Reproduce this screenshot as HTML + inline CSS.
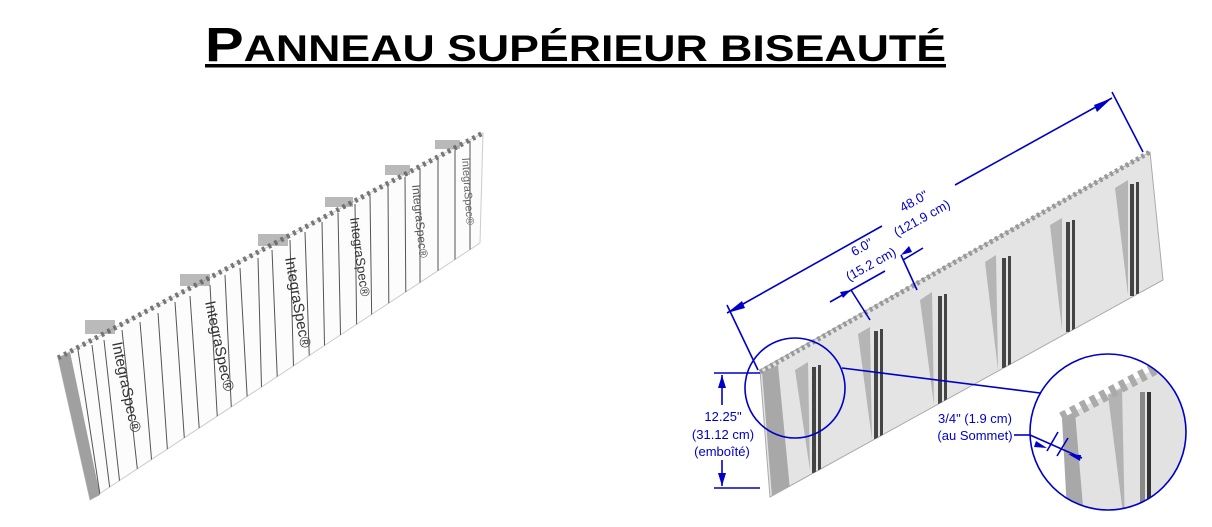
<!DOCTYPE html>
<html><head><meta charset="utf-8"><style>
html,body{margin:0;padding:0;background:#fff;width:1212px;height:527px;overflow:hidden}
svg{position:absolute;left:0;top:0}
</style></head><body>
<svg width="1212" height="527" viewBox="0 0 1212 527" xmlns="http://www.w3.org/2000/svg" font-family="Liberation Sans, Arial, sans-serif">
<!-- Title -->
<text x="205" y="61" font-size="48" font-weight="bold" fill="#000" textLength="741" lengthAdjust="spacingAndGlyphs">P<tspan font-size="37">ANNEAU SUPÉRIEUR BISEAUTÉ</tspan></text>
<rect x="205" y="64" width="741" height="3.5" fill="#000"/>

<defs>
<clipPath id="lp"><polygon points="58,358 483,133 480,243 90,500"/></clipPath>
<clipPath id="rp"><polygon points="760,370 1150,152 1163,280 770,497"/></clipPath>
<clipPath id="bc"><circle cx="1108" cy="432" r="78"/></clipPath>
</defs>

<!-- LEFT PANEL -->
<polygon points="58,358 483,133 480,243 90,500" fill="#fcfcfc" stroke="#ccc" stroke-width="1"/>
<polygon points="58,358 70,352 100,495 90,500" fill="#a0a0a0"/>
<g clip-path="url(#lp)" stroke="#555" stroke-width="1">
<line x1="78" y1="350" x2="100" y2="495"/><line x1="92" y1="345" x2="110" y2="490"/>
<line x1="104" y1="340" x2="120" y2="485"/><line x1="122" y1="330" x2="138" y2="475"/>
<line x1="140" y1="322" x2="152" y2="465"/><line x1="158" y1="313" x2="168" y2="458"/>
<line x1="175" y1="302" x2="185" y2="448"/><line x1="190" y1="296" x2="200" y2="440"/>
<line x1="210" y1="285" x2="218" y2="430"/><line x1="225" y1="275" x2="232" y2="422"/>
<line x1="240" y1="268" x2="248" y2="412"/><line x1="258" y1="258" x2="262" y2="405"/>
<line x1="272" y1="250" x2="278" y2="395"/><line x1="290" y1="240" x2="294" y2="385"/>
<line x1="305" y1="232" x2="310" y2="377"/><line x1="322" y1="222" x2="325" y2="368"/>
<line x1="338" y1="213" x2="341" y2="358"/><line x1="355" y1="204" x2="357" y2="350"/>
<line x1="370" y1="196" x2="372" y2="340"/><line x1="388" y1="186" x2="389" y2="332"/>
<line x1="405" y1="177" x2="406" y2="322"/><line x1="420" y1="168" x2="420" y2="314"/>
<line x1="438" y1="158" x2="438" y2="305"/><line x1="455" y1="150" x2="455" y2="295"/>
<line x1="470" y1="141" x2="470" y2="287"/>
</g>
<polyline points="58,358 483,133" fill="none" stroke="#777" stroke-width="5" stroke-dasharray="3,4"/>
<g fill="#333" font-size="15">
<text transform="translate(112,343) rotate(78)">IntegraSpec®</text>
<text transform="translate(205,302) rotate(78)">IntegraSpec®</text>
<text transform="translate(285,258) rotate(80)">IntegraSpec®</text>
<text transform="translate(350,218) rotate(82)" font-size="13">IntegraSpec®</text>
<text transform="translate(412,185) rotate(84)" font-size="12" fill="#555">IntegraSpec®</text>
<text transform="translate(462,158) rotate(86)" font-size="11" fill="#666">IntegraSpec®</text>
</g>
<g fill="#666" opacity=".45">
<rect x="85" y="320" width="30" height="14"/>
<rect x="180" y="274" width="30" height="12"/>
<rect x="258" y="234" width="30" height="12"/>
<rect x="325" y="197" width="28" height="10"/>
<rect x="385" y="165" width="25" height="10"/>
<rect x="435" y="140" width="25" height="9"/>
</g>

<!-- RIGHT PANEL -->
<polygon points="760,370 1150,152 1163,280 770,497" fill="#e4e4e4" stroke="#aaa"/>
<g clip-path="url(#rp)">
<polygon points="762,372 778,365 790,490 772,497" fill="#a8a8a8"/>
<g fill="#b5b5b5">
<polygon points="795,370 808,362 810,470"/>
<polygon points="858,334 870,327 872,440"/>
<polygon points="920,300 932,292 934,405"/>
<polygon points="985,262 996,255 998,370"/>
<polygon points="1050,225 1062,218 1062,330"/>
<polygon points="1115,188 1128,180 1128,295"/>
</g>
<g fill="#444">
<rect x="812" y="367" width="4" height="106"/><rect x="818" y="365" width="3" height="108"/>
<rect x="874" y="331" width="4" height="108"/><rect x="880" y="329" width="3" height="110"/>
<rect x="938" y="296" width="4" height="108"/><rect x="944" y="294" width="3" height="110"/>
<rect x="1002" y="258" width="4" height="110"/><rect x="1008" y="256" width="3" height="110"/>
<rect x="1066" y="222" width="4" height="110"/><rect x="1072" y="220" width="3" height="110"/>
<rect x="1130" y="184" width="4" height="112"/><rect x="1136" y="182" width="3" height="112"/>
</g>
</g>
<polyline points="760,372 1150,152" fill="none" stroke="#999" stroke-width="5" stroke-dasharray="3,3"/>

<!-- magnified detail -->
<g clip-path="url(#bc)">
<polygon points="1062,418 1200,345 1200,530 1070,530" fill="#e2e2e2"/>
<polygon points="1062,418 1075,412 1085,530 1068,530" fill="#a8a8a8"/>
<polygon points="1108,395 1122,388 1125,530" fill="#b3b3b3"/>
<rect x="1140" y="392" width="5" height="140" fill="#888"/>
<rect x="1147" y="392" width="4" height="140" fill="#333"/>
<polyline points="1062,418 1200,345" fill="none" stroke="#aaa" stroke-width="12" stroke-dasharray="6,5"/>
</g>

<!-- dimensions -->
<g stroke="#0000c8" stroke-width="1.6" fill="none">
<line x1="727" y1="313" x2="882" y2="226"/><line x1="955" y1="185" x2="1112" y2="98"/>
<line x1="758" y1="370" x2="727" y2="305"/><line x1="1143" y1="152" x2="1112" y2="92"/>
<line x1="830" y1="302" x2="885" y2="271"/><line x1="903" y1="260" x2="923" y2="248"/>
<line x1="851" y1="290" x2="870" y2="320"/><line x1="901" y1="255" x2="917" y2="290"/>
<line x1="714" y1="373" x2="760" y2="373"/><line x1="714" y1="488" x2="760" y2="488"/>
<line x1="722" y1="375" x2="722" y2="405"/><line x1="722" y1="460" x2="722" y2="486"/>
<circle cx="795" cy="388" r="50"/>
<circle cx="1108" cy="432" r="78"/>
<line x1="842" y1="368" x2="1040" y2="393"/>
<line x1="1014" y1="435" x2="1030" y2="435"/><line x1="1030" y1="435" x2="1082" y2="458"/>
<line x1="1047" y1="451" x2="1058" y2="432"/><line x1="1057" y1="456" x2="1068" y2="438"/>
</g>
<g fill="#0000c8">
<polygon points="727,313 742,301 745,308"/>
<polygon points="1112,98 1094,105 1097,112"/>
<polygon points="851,290 840,292 843,298"/>
<polygon points="901,255 912,252 909,246"/>
<polygon points="722,375 718,388 726,388"/>
<polygon points="722,486 718,473 726,473"/>
<polygon points="1047,448 1036,441 1034,447"/>
<polygon points="1068,454 1080,461 1081,455"/>
</g>
<g fill="#0000c8" font-size="13" text-anchor="middle">
<text transform="translate(916,205) rotate(-29)">48.0"</text>
<text transform="translate(924,222) rotate(-29)">(121.9 cm)</text>
<text transform="translate(864,251) rotate(-29)">6.0"</text>
<text transform="translate(873,268) rotate(-29)">(15.2 cm)</text>
<text x="723" y="421">12.25"</text>
<text x="723" y="439">(31.12 cm)</text>
<text x="722" y="456">(emboîté)</text>
<text x="975" y="423">3/4" (1.9 cm)</text>
<text x="975" y="440">(au Sommet)</text>
</g>
</svg>
</body></html>
